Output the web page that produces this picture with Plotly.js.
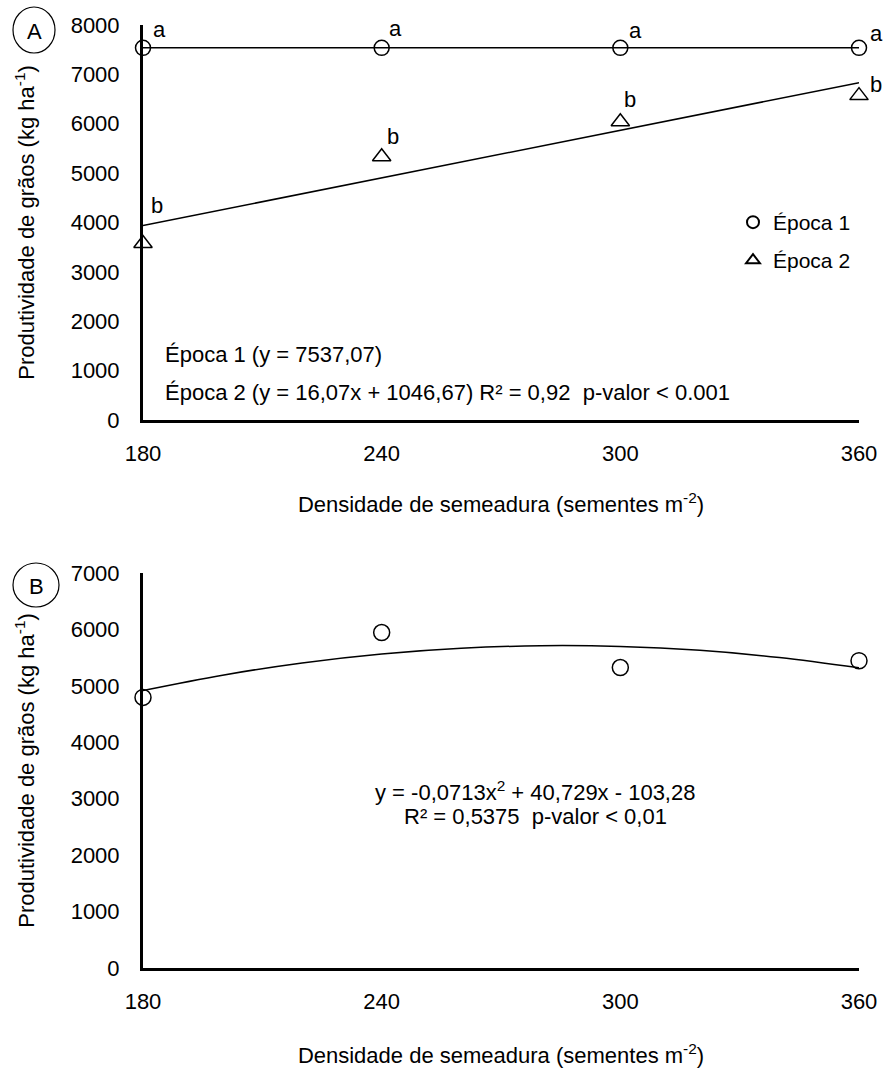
<!DOCTYPE html>
<html>
<head>
<meta charset="utf-8">
<script src="https://cdn.plot.ly/plotly-3.0.1.min.js"></script>
<style>html,body{margin:0;padding:0;background:#fff;}</style>
</head>
<body>
<div id="chart" style="width:884px;height:1071px;"></div>
<script>
// ---- data ----
const densidade = [180, 240, 300, 360];
const epoca1 = [7537, 7537, 7537, 7537];
const epoca2 = [3575, 5330, 6040, 6570];
const letrasEpoca1 = ['a', 'a', 'a', 'a'];
const letrasEpoca2 = ['b', 'b', 'b', 'b'];
const ajusteX = [180, 360];
const ajusteEpoca1 = [7537.07, 7537.07];
const ajusteEpoca2 = [3939, 6832];
const produtividadeB = [4795, 5945, 5325, 5445];
const curvaBX = [180, 200, 220, 240, 260, 280, 300, 320, 340, 360];
const curvaBY = [4918, 5190, 5406, 5565, 5666, 5711, 5698, 5629, 5502, 5319];
const xTicks = [180, 240, 300, 360];
const nomes = ['Época 1', 'Época 2'];
const tituloY = 'Produtividade de grãos (kg ha<sup>-1</sup>)';
const tituloX = 'Densidade de semeadura (sementes m<sup>-2</sup>)';
const eqA1 = 'Época 1 (y = 7537,07)';
const eqA2 = 'Época 2 (y = 16,07x + 1046,67) R² = 0,92  p-valor < 0.001';
const eqB1 = 'y = -0,0713x<sup>2</sup> + 40,729x - 103,28';
const eqB2 = 'R² = 0,5375  p-valor < 0,01';

// ---- style / geometry helpers ----
const W = 884, H = 1071, L = 143, R = 25;
const PW = W - L - R;
const px = v => (v - L) / PW;
const py = v => 1 - v / H;
const FONT = 'Liberation Sans, Arial, Helvetica, sans-serif';
const F22 = {family: FONT, size: 22, color: '#000'};
const F21 = {family: FONT, size: 21, color: '#000'};
const offA = [[16, 18], [14, 19], [15, 17], [17, 14]];
const offB = [[14, 38], [11, 20], [10, 22], [17, 11]];

const traces = [
  {x: ajusteX, y: ajusteEpoca1, mode: 'lines', line: {color: '#000', width: 1.5},
   showlegend: false, hoverinfo: 'skip', xaxis: 'x', yaxis: 'y'},
  {x: ajusteX, y: ajusteEpoca2, mode: 'lines', line: {color: '#000', width: 1.5},
   showlegend: false, hoverinfo: 'skip', xaxis: 'x', yaxis: 'y'},
  {x: densidade, y: epoca1, name: nomes[0], mode: 'markers', legend: 'legend',
   marker: {symbol: 'circle-open', size: 15, color: '#000', line: {width: 1.5, color: '#000'}},
   cliponaxis: false, xaxis: 'x', yaxis: 'y'},
  {x: densidade, y: epoca2, name: nomes[1], mode: 'markers', legend: 'legend2',
   marker: {symbol: 'triangle-up-open', size: 16, color: '#000', line: {width: 1.5, color: '#000'}},
   cliponaxis: false, xaxis: 'x', yaxis: 'y'},
  {x: curvaBX, y: curvaBY, mode: 'lines', line: {color: '#000', width: 1.5, shape: 'spline'},
   showlegend: false, hoverinfo: 'skip', xaxis: 'x2', yaxis: 'y2'},
  {x: densidade, y: produtividadeB, mode: 'markers', showlegend: false,
   marker: {symbol: 'circle-open', size: 16, color: '#000', line: {width: 1.5, color: '#000'}},
   cliponaxis: false, xaxis: 'x2', yaxis: 'y2'}
];

const xAxisBase = {
  range: [180, 360], tickvals: xTicks, showline: true, linewidth: 3, linecolor: '#000',
  ticks: 'outside', ticklen: 12, tickcolor: 'rgba(0,0,0,0)', showgrid: false, zeroline: false,
  tickfont: F22, fixedrange: true
};
const yAxisBase = {
  showline: true, linewidth: 3, linecolor: '#000', dtick: 1000,
  ticks: 'outside', ticklen: 16, tickcolor: 'rgba(0,0,0,0)', showgrid: false, zeroline: false,
  tickfont: F22, fixedrange: true
};

const annotations = [];
densidade.forEach((d, i) => {
  annotations.push({x: d, y: epoca1[i], xref: 'x', yref: 'y', text: letrasEpoca1[i], showarrow: false,
    xshift: offA[i][0], yshift: offA[i][1], font: F22});
  annotations.push({x: d, y: epoca2[i], xref: 'x', yref: 'y', text: letrasEpoca2[i], showarrow: false,
    xshift: offB[i][0], yshift: offB[i][1], font: F22});
});
annotations.push(
  {xref: 'paper', yref: 'paper', x: px(163), y: py(355), xanchor: 'left', yanchor: 'middle', text: eqA1, showarrow: false, font: F22},
  {xref: 'paper', yref: 'paper', x: px(163), y: py(392), xanchor: 'left', yanchor: 'middle', text: eqA2, showarrow: false, font: F22},
  {xref: 'paper', yref: 'paper', x: px(535), y: py(791), xanchor: 'center', yanchor: 'middle', text: eqB1, showarrow: false, font: F22},
  {xref: 'paper', yref: 'paper', x: px(535), y: py(816), xanchor: 'center', yanchor: 'middle', text: eqB2, showarrow: false, font: F22},
  {xref: 'paper', yref: 'paper', x: px(34), y: py(31), xanchor: 'center', yanchor: 'middle', text: 'A', showarrow: false, font: F22},
  {xref: 'paper', yref: 'paper', x: px(36), y: py(586), xanchor: 'center', yanchor: 'middle', text: 'B', showarrow: false, font: F22}
);

const shapes = [
  {type: 'circle', xref: 'paper', yref: 'paper', xsizemode: 'pixel', ysizemode: 'pixel',
   xanchor: px(34), yanchor: py(30), x0: -21, x1: 21, y0: -23, y1: 23, line: {color: '#000', width: 1.2}},
  {type: 'circle', xref: 'paper', yref: 'paper', xsizemode: 'pixel', ysizemode: 'pixel',
   xanchor: px(36), yanchor: py(585), x0: -23, x1: 23, y0: -22, y1: 22, line: {color: '#000', width: 1.2}}
];

const legendBase = {xanchor: 'left', yanchor: 'top', bgcolor: 'rgba(0,0,0,0)', font: F21, itemsizing: 'constant'};

const layout = {
  width: W, height: H,
  margin: {l: L, r: R, t: 0, b: 0},
  paper_bgcolor: '#fff', plot_bgcolor: '#fff',
  font: F22,
  showlegend: true,
  legend: Object.assign({}, legendBase, {x: px(733), y: py(202)}),
  legend2: Object.assign({}, legendBase, {x: px(733), y: py(240)}),
  xaxis: Object.assign({}, xAxisBase, {domain: [0, 1], anchor: 'y',
    title: {text: tituloX, standoff: 32, font: F22}}),
  yaxis: Object.assign({}, yAxisBase, {domain: [py(420), py(25)], anchor: 'x', range: [0, 8000],
    title: {text: tituloY, standoff: 30, font: F22}}),
  xaxis2: Object.assign({}, xAxisBase, {domain: [0, 1], anchor: 'y2',
    title: {text: tituloX, standoff: 35, font: F22}}),
  yaxis2: Object.assign({}, yAxisBase, {domain: [py(968), py(573)], anchor: 'x2', range: [0, 7000],
    title: {text: tituloY, standoff: 30, font: F22}}),
  annotations: annotations,
  shapes: shapes
};

Plotly.newPlot('chart', traces, layout, {displayModeBar: false, staticPlot: true});
</script>
</body>
</html>
